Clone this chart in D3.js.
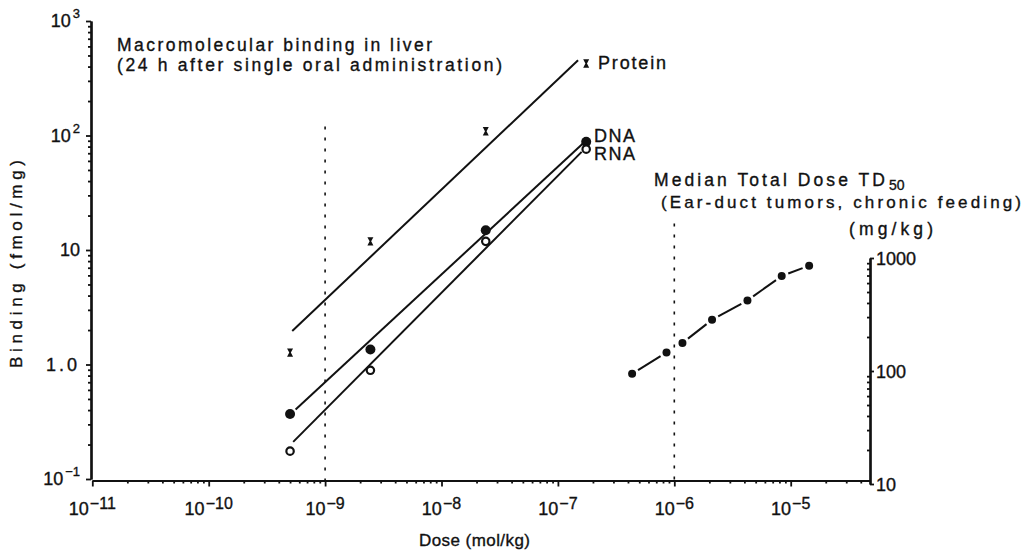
<!DOCTYPE html>
<html>
<head>
<meta charset="utf-8">
<script src="https://cdn.jsdelivr.net/npm/d3@7"></script>
<style>
  html, body { margin: 0; padding: 0; background: #fff; }
  svg { display: block; font-family: "Liberation Sans", Arial, sans-serif; }
  text { stroke: #111; stroke-width: 0.35px; }
</style>
</head>
<body>
<svg id="chart" width="1030" height="552"></svg>
<script>
// Administered doses (mol/kg) at which binding was measured
const doses = [5.0e-10, 2.45e-9, 2.4e-8, 1.75e-7];

// Binding in liver, fmol/mg, 24 h after a single oral dose
const protein = [1.27, 11.9, 109, 425];
const dna = [0.37, 1.35, 14.9, 88];
const rna = [0.175, 0.89, 11.9, 76];

// Fitted regression lines: [start dose, end dose] and [start value, end value]
const proteinFitDose = [5.22e-10, 1.49e-7];
const proteinFitValue = [1.96, 455];
const dnaFitDose = [5.58e-10, 1.64e-7];
const dnaFitValue = [0.405, 85];
const rnaFitDose = [5.32e-10, 1.6e-7];
const rnaFitValue = [0.211, 72];

// Median total dose TD50 (mg/kg) vs dose rate (mol/kg), ear-duct tumours
const td50Dose = [4.34e-7, 8.57e-7, 1.175e-6, 2.11e-6, 4.25e-6, 8.37e-6, 1.44e-5];
const td50Value = [94.4, 146, 177, 284, 421, 693, 855];

// Dotted reference lines (dose, upper end in binding units)
const refDose = [1e-9, 1e-6];
const refTop = [120, 17];

// Tick labels
const xTickExp = ["−11", "−10", "−9", "−8", "−7", "−6", "−5"];
const yLeftTicks = [0.1, 1, 10, 100, 1000];
const yLeftBase = ["10", "1.0", "10", "10", "10"];
const yLeftExp = ["−1", "", "", "2", "3"];
const yRightTicks = [10, 100, 1000];
const yRightLabels = ["10", "100", "1000"];

const svg = d3.select("#chart");
const ink = "#111";

const x = d3.scaleLog().domain([1e-11, 4.8e-5]).range([92.3, 870]);
const yL = d3.scaleLog().domain([0.1, 1000]).range([479, 21]);
const yR = d3.scaleLog().domain([10, 1000]).range([484, 258]);

function minorTicks(lo, hi) {
  const out = [];
  for (let e = Math.floor(Math.log10(lo)); e <= Math.ceil(Math.log10(hi)); e++) {
    for (let m = 2; m <= 9; m++) {
      const v = m * Math.pow(10, e);
      if (v > lo && v < hi) out.push(v);
    }
  }
  return out;
}
const xMajor = xTickExp.map((_, i) => Math.pow(10, -11 + i));

// ---- Bottom axis ----
const axisY = 480.5;
const gx = svg.append("g").attr("transform", `translate(0,${axisY})`);
gx.call(d3.axisBottom(x).tickValues(minorTicks(1e-11, 4.8e-5)).tickSize(3).tickFormat("").tickSizeOuter(0));
gx.call(g => g.append("g").call(d3.axisBottom(x).tickValues(xMajor).tickSize(6).tickFormat("").tickSizeOuter(0)));
gx.selectAll("path.domain").attr("stroke", ink).attr("stroke-width", 2.2);
gx.selectAll(".tick line").attr("stroke", ink).attr("stroke-width", 1.8);

const xl = svg.append("g").attr("fill", ink).attr("font-size", 18);
xMajor.forEach((v, i) => {
  const t = xl.append("text").attr("x", x(v)).attr("y", 515).attr("text-anchor", "middle");
  t.append("tspan").text("10");
  t.append("tspan").attr("dy", -6).attr("font-size", 16).attr("dx", 1).text(xTickExp[i]);
});

// ---- Left axis ----
const gy = svg.append("g").attr("transform", "translate(91,0)");
gy.call(d3.axisLeft(yL).tickValues(minorTicks(0.1, 1000)).tickSize(3).tickFormat("").tickSizeOuter(0));
gy.call(g => g.append("g").call(d3.axisLeft(yL).tickValues(yLeftTicks).tickSize(5).tickFormat("").tickSizeOuter(0)));
gy.selectAll("path.domain").attr("stroke", ink).attr("stroke-width", 2.2);
gy.selectAll(".tick line").attr("stroke", ink).attr("stroke-width", 1.8);

const yl = svg.append("g").attr("fill", ink).attr("font-size", 18);
yLeftTicks.forEach((v, i) => {
  const t = yl.append("text").attr("x", 80).attr("y", yL(v) + 6).attr("text-anchor", "end");
  t.append("tspan").attr("letter-spacing", yLeftBase[i] === "1.0" ? 3 : 0).text(yLeftBase[i]);
  if (yLeftExp[i]) t.append("tspan").attr("dy", -9).attr("dx", 2).attr("font-size", 13).text(yLeftExp[i]);
});

// ---- Right axis (TD50, mg/kg) ----
const gr = svg.append("g").attr("transform", "translate(870,0)");
gr.call(d3.axisLeft(yR).tickValues(minorTicks(10, 1000)).tickSize(3).tickFormat("").tickSizeOuter(0));
gr.call(g => g.append("g").call(d3.axisRight(yR).tickValues(yRightTicks).tickSize(4).tickFormat("").tickSizeOuter(0)));
gr.selectAll("path.domain").attr("stroke", ink).attr("stroke-width", 2.2);
gr.selectAll(".tick line").attr("stroke", ink).attr("stroke-width", 1.8);

const rl = svg.append("g").attr("fill", ink).attr("font-size", 18);
yRightTicks.forEach((v, i) => {
  rl.append("text").attr("x", 876).attr("y", yR(v) + 7).text(yRightLabels[i]);
});

// ---- Dotted reference lines ----
refDose.forEach((d, i) => {
  svg.append("line")
    .attr("x1", x(d)).attr("x2", x(d))
    .attr("y1", yL(refTop[i])).attr("y2", axisY)
    .attr("stroke", ink).attr("stroke-width", 1.6)
    .attr("stroke-dasharray", "3,8");
});

// ---- Regression lines ----
function fitLine(ds, vs) {
  svg.append("line")
    .attr("x1", x(ds[0])).attr("y1", yL(vs[0]))
    .attr("x2", x(ds[1])).attr("y2", yL(vs[1]))
    .attr("stroke", ink).attr("stroke-width", 2);
}
fitLine(proteinFitDose, proteinFitValue);
fitLine(dnaFitDose, dnaFitValue);
fitLine(rnaFitDose, rnaFitValue);

// ---- Binding points ----
// Protein: small hourglass marks
svg.append("g").selectAll("path").data(protein).join("path")
  .attr("transform", (v, i) => `translate(${x(doses[i])},${yL(v)})`)
  .attr("d", "M-3,-4.2 L3,-4.2 L0.8,0 L3,4.2 L-3,4.2 L-0.8,0 Z")
  .attr("fill", ink);

svg.append("g").selectAll("circle").data(dna).join("circle")
  .attr("cx", (v, i) => x(doses[i])).attr("cy", v => yL(v))
  .attr("r", 5).attr("fill", ink);

svg.append("g").selectAll("circle").data(rna).join("circle")
  .attr("cx", (v, i) => x(doses[i])).attr("cy", v => yL(v))
  .attr("r", 3.7).attr("fill", "#fff").attr("stroke", ink).attr("stroke-width", 2.2);

// ---- TD50 series: broken connectors between filled dots ----
const tdPts = td50Dose.map((d, i) => [x(d), yR(td50Value[i])]);
const gap = 7;
for (let i = 0; i < tdPts.length - 1; i++) {
  const [x1, y1] = tdPts[i], [x2, y2] = tdPts[i + 1];
  const len = Math.hypot(x2 - x1, y2 - y1);
  if (len - 2 * gap < 6) continue;
  const ux = (x2 - x1) / len, uy = (y2 - y1) / len;
  svg.append("line")
    .attr("x1", x1 + ux * gap).attr("y1", y1 + uy * gap)
    .attr("x2", x2 - ux * gap).attr("y2", y2 - uy * gap)
    .attr("stroke", ink).attr("stroke-width", 2);
}
svg.append("g").selectAll("circle").data(td50Value).join("circle")
  .attr("cx", (v, i) => x(td50Dose[i])).attr("cy", v => yR(v))
  .attr("r", 4).attr("fill", ink);

// ---- Annotations ----
const ann = svg.append("g").attr("fill", ink).attr("font-size", 17.5);
function label(txt, px, py, len, size) {
  const t = ann.append("text").attr("x", px).attr("y", py).text(txt);
  if (len) t.attr("textLength", len).attr("lengthAdjust", "spacing");
  if (size) t.attr("font-size", size);
  return t;
}
label("Macromolecular binding in liver", 117, 51, 315);
label("(24 h after single oral administration)", 117, 71, 385);
label("Protein", 598, 69, 68, 18);
label("DNA", 594, 142, 41, 18);
label("RNA", 594, 160, 41, 18);

const td = ann.append("text").attr("x", 654).attr("y", 186);
td.append("tspan").attr("textLength", 231).attr("lengthAdjust", "spacing").text("Median Total Dose TD");
td.append("tspan").attr("dy", 4).attr("dx", 1).attr("font-size", 14).text("50");
label("(Ear-duct tumors, chronic feeding)", 661, 208, 360, 17);
label("(mg/kg)", 849, 235, 84);

// Axis titles
label("Dose (mol/kg)", 419, 546, 111, 17);
ann.append("text")
  .attr("transform", "translate(22,264) rotate(-90)")
  .attr("text-anchor", "middle")
  .attr("font-size", 17)
  .attr("textLength", 208).attr("lengthAdjust", "spacing")
  .text("Binding (fmol/mg)");
</script>
</body>
</html>
